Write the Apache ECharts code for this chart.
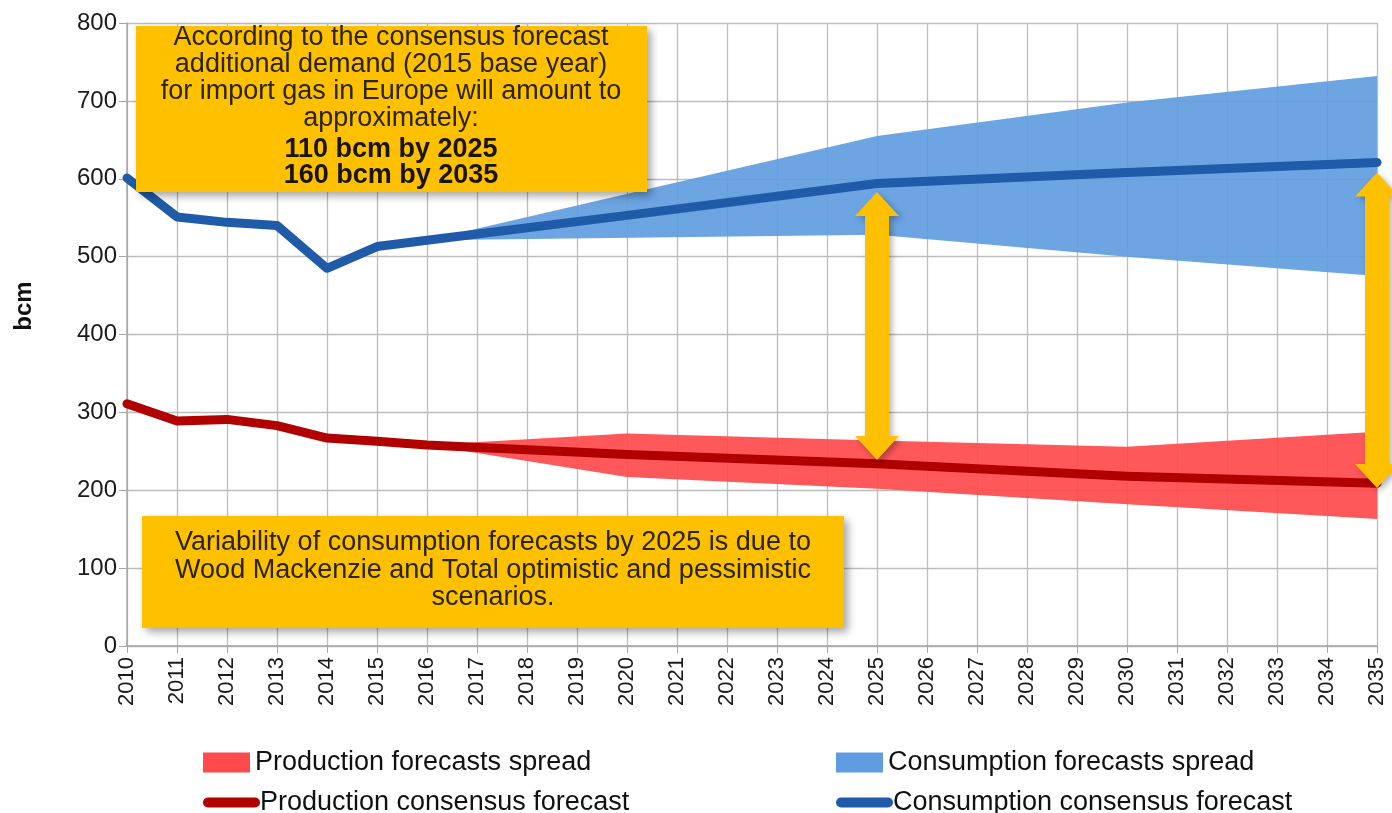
<!DOCTYPE html>
<html>
<head>
<meta charset="utf-8">
<script src="https://cdn.jsdelivr.net/npm/echarts@6/dist/echarts.min.js"></script>
<style>
html,body{margin:0;padding:0;background:#fff;}
#c{width:1392px;height:813px;}
</style>
</head>
<body>
<div id="c"></div>
<script>
// ---- data ----
const yTicks = [0, 100, 200, 300, 400, 500, 600, 700, 800];
const consumptionConsensus = [
  [2010, 601], [2011, 551], [2012, 544], [2013, 540], [2014, 485], [2015, 513],
  [2016, 521], [2020, 553], [2025, 594], [2030, 608], [2035, 621]
];
const productionConsensus = [
  [2010, 311], [2011, 289], [2012, 291], [2013, 283], [2014, 267], [2015, 263],
  [2016, 258], [2020, 246], [2025, 234], [2030, 218], [2035, 209]
];
const consumptionSpreadYears = [2016, 2025, 2030, 2035];
const consumptionSpreadLow  = [521, 528, 500, 475];
const consumptionSpreadHigh = [521, 655, 698, 732];
const productionSpreadYears = [2016, 2020, 2025, 2030, 2035];
const productionSpreadLow  = [258, 217, 202, 182, 163];
const productionSpreadHigh = [258, 273, 264, 256, 275];
// import-gap arrows: [year, top value, bottom value]
const gapArrows = [[2025, 583, 239], [2035, 608, 203]];

const FONT = "'Liberation Sans', Arial, sans-serif";
const C_SPREAD = '#5F9DE0', C_LINE = '#1F5BA8';
const P_SPREAD = '#FF4A4C', P_LINE = '#B00000';
const YELLOW = '#FFC000';

// band drawn as one polygon through the axes' scales
function bandSeries(name, years, lo, hi, color) {
  const rows = years.map((y, i) => [y, lo[i], hi[i]]);
  return {
    name: name, type: 'custom', z: 2, clip: true,
    itemStyle: {color: color},
    encode: {x: 0, y: [1, 2]},
    data: rows,
    renderItem: function (params, api) {
      if (params.dataIndex !== 0) return null;
      const top = rows.map(r => api.coord([r[0], r[2]]));
      const bot = rows.map(r => api.coord([r[0], r[1]])).reverse();
      return {
        type: 'polygon',
        shape: {points: top.concat(bot)},
        style: {fill: color, opacity: 0.92}
      };
    }
  };
}

const chart = echarts.init(document.getElementById('c'), null, {renderer: 'canvas'});

function legendItem(left, top, item) {
  return {
    left: left, top: top, orient: 'horizontal', itemWidth: 47, itemHeight: 20, padding: 0,
    selectedMode: false,
    textStyle: {fontSize: 27, lineHeight: 22, color: '#111', fontFamily: FONT},
    data: [item]
  };
}

const option = {
  backgroundColor: '#fff',
  animation: false,
  textStyle: {fontFamily: FONT},
  grid: {left: 127, right: 15, top: 23, bottom: 167, outerBoundsMode: 'none', containLabel: false},
  xAxis: {
    type: 'value', min: 2010, max: 2035, interval: 1,
    axisLine: {show: true, lineStyle: {color: '#A6A6A6', width: 1.5}},
    axisTick: {show: true, length: 7, lineStyle: {color: '#A6A6A6'}},
    axisLabel: {rotate: 90, fontSize: 22, color: '#1a1a1a', margin: 11, fontFamily: FONT,
      formatter: v => String(v)},
    splitLine: {show: true, lineStyle: {color: '#BDBDBD', width: 1.3}}
  },
  yAxis: {
    type: 'value', min: yTicks[0], max: yTicks[yTicks.length - 1], interval: 100,
    axisLine: {show: true, lineStyle: {color: '#A6A6A6', width: 1.5}},
    axisTick: {show: true, length: 8, lineStyle: {color: '#A6A6A6'}},
    axisLabel: {fontSize: 24, color: '#1a1a1a', margin: 10, fontFamily: FONT},
    splitLine: {show: true, lineStyle: {color: '#BDBDBD', width: 1.3}}
  },
  legend: [
    legendItem(203, 749, {name: 'Production forecasts spread', icon: 'rect'}),
    legendItem(203, 789, {name: 'Production consensus forecast', itemStyle: {opacity: 0}, lineStyle: {width: 10, cap: 'round', color: P_LINE}}),
    legendItem(836, 749, {name: 'Consumption forecasts spread', icon: 'rect'}),
    legendItem(836, 789, {name: 'Consumption consensus forecast', itemStyle: {opacity: 0}, lineStyle: {width: 10, cap: 'round', color: C_LINE}})
  ],
  series: [
    bandSeries('Consumption forecasts spread', consumptionSpreadYears, consumptionSpreadLow, consumptionSpreadHigh, C_SPREAD),
    bandSeries('Production forecasts spread', productionSpreadYears, productionSpreadLow, productionSpreadHigh, P_SPREAD),
    {
      name: 'Consumption consensus forecast', type: 'line', symbol: 'none',
      itemStyle: {color: C_LINE},
      lineStyle: {width: 9, color: C_LINE, cap: 'round', join: 'round'},
      data: consumptionConsensus, z: 3
    },
    {
      name: 'Production consensus forecast', type: 'line', symbol: 'none',
      itemStyle: {color: P_LINE},
      lineStyle: {width: 9, color: P_LINE, cap: 'round', join: 'round'},
      data: productionConsensus, z: 3
    }
  ]
};
chart.setOption(option);

// ---- annotations ----
const shadow = {shadowBlur: 8, shadowOffsetX: 4, shadowOffsetY: 4, shadowColor: 'rgba(0,0,0,0.35)'};
const graphics = [];

graphics.push({type: 'rect', id: 'box1', shape: {x: 136, y: 26, width: 511, height: 166},
  style: Object.assign({fill: YELLOW}, shadow), z: 100});
graphics.push({type: 'text', id: 'box1t', x: 391, y: 24, z: 101,
  style: {text: 'According to the consensus forecast\nadditional demand (2015 base year)\nfor import gas in Europe will amount to\napproximately:',
    font: '27px ' + FONT, fill: '#2a2400', textAlign: 'center', textVerticalAlign: 'top', lineHeight: 27}});
graphics.push({type: 'text', id: 'box1b', x: 391, y: 137, z: 101,
  style: {text: '110 bcm by 2025\n160 bcm by 2035',
    font: 'bold 27px ' + FONT, fill: '#1a1500', textAlign: 'center', textVerticalAlign: 'top', lineHeight: 26}});

graphics.push({type: 'rect', id: 'box2', shape: {x: 142, y: 516, width: 702, height: 112},
  style: Object.assign({fill: YELLOW}, shadow), z: 100});
graphics.push({type: 'text', id: 'box2t', x: 493, y: 529, z: 101,
  style: {text: 'Variability of consumption forecasts by 2025 is due to\nWood Mackenzie and Total optimistic and pessimistic\nscenarios.',
    font: '27px ' + FONT, fill: '#2a2400', textAlign: 'center', textVerticalAlign: 'top', lineHeight: 27.5}});

graphics.push({type: 'text', id: 'bcm', x: 24, y: 306, rotation: Math.PI / 2, z: 101,
  style: {text: 'bcm', font: 'bold 24px ' + FONT, fill: '#111', textAlign: 'center', textVerticalAlign: 'middle'}});

gapArrows.forEach((a, i) => {
  const top = chart.convertToPixel({gridIndex: 0}, [a[0], a[1]]);
  const bot = chart.convertToPixel({gridIndex: 0}, [a[0], a[2]]);
  const cx = top[0], yt = top[1], yb = bot[1];
  const hw = 22, sw = 12, hl = 24;
  graphics.push({type: 'polygon', id: 'arrow' + i, z: 99,
    shape: {points: [[cx, yt], [cx + hw, yt + hl], [cx + sw, yt + hl], [cx + sw, yb - hl], [cx + hw, yb - hl],
      [cx, yb], [cx - hw, yb - hl], [cx - sw, yb - hl], [cx - sw, yt + hl], [cx - hw, yt + hl]]},
    style: {fill: YELLOW, shadowBlur: 6, shadowOffsetX: 3, shadowOffsetY: 3, shadowColor: 'rgba(0,0,0,0.3)'}});
});

chart.setOption({graphic: graphics});
</script>
</body>
</html>
